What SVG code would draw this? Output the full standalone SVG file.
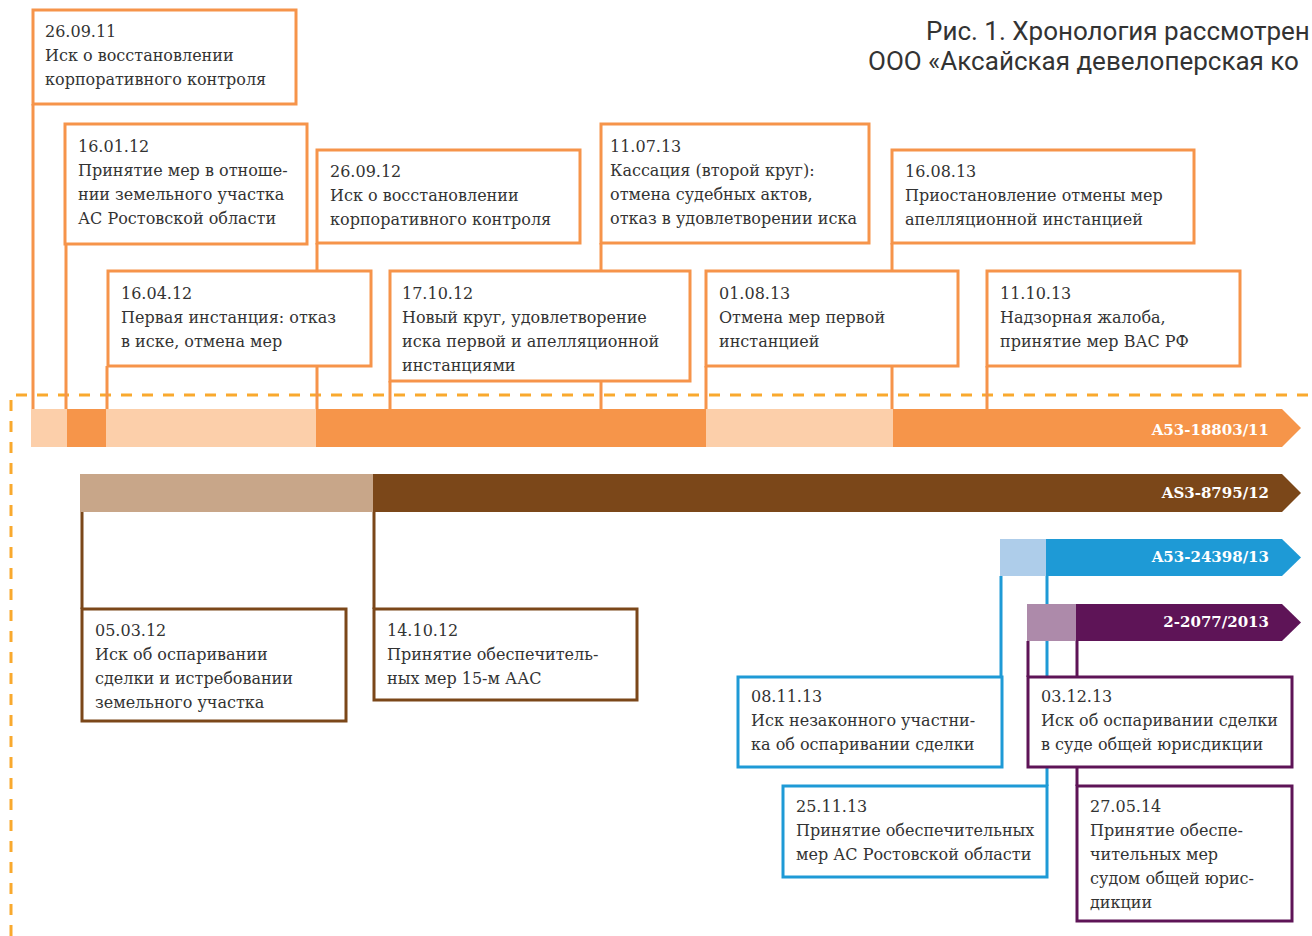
<svg xmlns="http://www.w3.org/2000/svg" width="1312" height="936" viewBox="0 0 1312 936">
<style>
.t{font-family:"DejaVu Serif","Liberation Serif",serif;font-size:16px;fill:#333}
.lbl{font-family:"DejaVu Serif","Liberation Serif",serif;font-size:15px;font-weight:bold;fill:#fff;text-anchor:end}
.title{font-family:Roboto,"Noto Sans",sans-serif;font-size:26px;fill:#333}
.bo{fill:#fff;stroke:#F6944A;stroke-width:3}
.bb{fill:#fff;stroke:#7B4719;stroke-width:3}
.bl{fill:#fff;stroke:#1E9AD6;stroke-width:3}
.bp{fill:#fff;stroke:#5E1457;stroke-width:3}
.co{stroke:#F6944A;stroke-width:3;fill:none}
.cb{stroke:#7B4719;stroke-width:3;fill:none}
.cl{stroke:#1E9AD6;stroke-width:3;fill:none}
.cp{stroke:#5E1457;stroke-width:3;fill:none}
</style>
<rect width="1312" height="936" fill="#fff"/>
<g id="title">
<text class="title" x="926" y="40">Рис. 1. Хронология рассмотрен</text>
<text class="title" x="868" y="70">ООО «Аксайская девелоперская ко</text>
</g>
<path d="M11,936 V395 H1312" fill="none" stroke="#F9A92E" stroke-width="3" stroke-dasharray="11 10"/>
<g id="connectors">
<path class="co" d="M33,104V409 M66,244V409 M317,243V409 M601,243V409 M892,243V409 M107,366V409 M390,381V409 M706,366V409 M987,366V409"/>
<path class="cb" d="M82,512V609 M374,512V609"/>
<path class="cl" d="M1001,576V677 M1047,576V786"/>
<path class="cp" d="M1028,641V677 M1077,641V786"/>
</g>
<g id="bar1">
<rect x="31" y="409" width="36" height="38" fill="#FCCFAA"/>
<rect x="67" y="409" width="39" height="38" fill="#F6954A"/>
<rect x="106" y="409" width="210" height="38" fill="#FCCFAA"/>
<rect x="316" y="409" width="390" height="38" fill="#F6954A"/>
<rect x="706" y="409" width="187" height="38" fill="#FCCFAA"/>
<path d="M893,409H1282L1301,428L1282,447H893Z" fill="#F6954A"/>
<text class="lbl" x="1269" y="435">A53-18803/11</text>
</g>
<g id="bar2">
<rect x="80" y="474" width="293" height="38" fill="#C8A689"/>
<path d="M373,474H1282L1301,493L1282,512H373Z" fill="#7B4719"/>
<text class="lbl" x="1269" y="498">AS3-8795/12</text>
</g>
<g id="bar3">
<rect x="1000" y="539" width="46" height="37" fill="#AECDEA"/>
<path d="M1046,539H1282L1301,557.5L1282,576H1046Z" fill="#1E9AD6"/>
<text class="lbl" x="1269" y="562">A53-24398/13</text>
</g>
<g id="bar4">
<rect x="1027" y="604" width="49" height="37" fill="#AD8AAA"/>
<path d="M1076,604H1282L1301,622.5L1282,641H1076Z" fill="#5E1457"/>
<text class="lbl" x="1269" y="627">2-2077/2013</text>
</g>
<g id="n260911"><rect class="bo" x="33" y="10" width="263" height="94"/>
<text class="t" x="45" y="37">26.09.11</text><text class="t" x="45" y="61">Иск о восстановлении</text><text class="t" x="45" y="85">корпоративного контроля</text></g>
<g id="n160112"><rect class="bo" x="65" y="124" width="242" height="120"/>
<text class="t" x="78" y="152">16.01.12</text><text class="t" x="78" y="176">Принятие мер в отноше-</text><text class="t" x="78" y="200">нии земельного участка</text><text class="t" x="78" y="224">АС Ростовской области</text></g>
<g id="n260912"><rect class="bo" x="317" y="150" width="263" height="93"/>
<text class="t" x="330" y="177">26.09.12</text><text class="t" x="330" y="201">Иск о восстановлении</text><text class="t" x="330" y="225">корпоративного контроля</text></g>
<g id="n110713"><rect class="bo" x="601" y="124" width="268" height="119"/>
<text class="t" x="610" y="152">11.07.13</text><text class="t" x="610" y="176">Кассация (второй круг):</text><text class="t" x="610" y="200">отмена судебных актов,</text><text class="t" x="610" y="224">отказ в удовлетворении иска</text></g>
<g id="n160813"><rect class="bo" x="892" y="150" width="302" height="93"/>
<text class="t" x="905" y="177">16.08.13</text><text class="t" x="905" y="201">Приостановление отмены мер</text><text class="t" x="905" y="225">апелляционной инстанцией</text></g>
<g id="n160412"><rect class="bo" x="108" y="271" width="263" height="95"/>
<text class="t" x="121" y="299">16.04.12</text><text class="t" x="121" y="323">Первая инстанция: отказ</text><text class="t" x="121" y="347">в иске, отмена мер</text></g>
<g id="n171012"><rect class="bo" x="390" y="271" width="300" height="110"/>
<text class="t" x="402" y="299">17.10.12</text><text class="t" x="402" y="323">Новый круг, удовлетворение</text><text class="t" x="402" y="347">иска первой и апелляционной</text><text class="t" x="402" y="371">инстанциями</text></g>
<g id="n010813"><rect class="bo" x="706" y="271" width="252" height="95"/>
<text class="t" x="719" y="299">01.08.13</text><text class="t" x="719" y="323">Отмена мер первой</text><text class="t" x="719" y="347">инстанцией</text></g>
<g id="n111013"><rect class="bo" x="987" y="271" width="253" height="95"/>
<text class="t" x="1000" y="299">11.10.13</text><text class="t" x="1000" y="323">Надзорная жалоба,</text><text class="t" x="1000" y="347">принятие мер ВАС РФ</text></g>
<g id="n050312"><rect class="bb" x="82" y="609" width="264" height="112"/>
<text class="t" x="95" y="636">05.03.12</text><text class="t" x="95" y="660">Иск об оспаривании</text><text class="t" x="95" y="684">сделки и истребовании</text><text class="t" x="95" y="708">земельного участка</text></g>
<g id="n141012"><rect class="bb" x="374" y="609" width="263" height="91"/>
<text class="t" x="387" y="636">14.10.12</text><text class="t" x="387" y="660">Принятие обеспечитель-</text><text class="t" x="387" y="684">ных мер 15-м ААС</text></g>
<g id="n081113"><rect class="bl" x="738" y="677" width="264" height="90"/>
<text class="t" x="751" y="702">08.11.13</text><text class="t" x="751" y="726">Иск незаконного участни-</text><text class="t" x="751" y="750">ка об оспаривании сделки</text></g>
<g id="n031213"><rect class="bp" x="1028" y="677" width="264" height="90"/>
<text class="t" x="1041" y="702">03.12.13</text><text class="t" x="1041" y="726">Иск об оспаривании сделки</text><text class="t" x="1041" y="750">в суде общей юрисдикции</text></g>
<g id="n251113"><rect class="bl" x="783" y="786" width="264" height="91"/>
<text class="t" x="796" y="812">25.11.13</text><text class="t" x="796" y="836">Принятие обеспечительных</text><text class="t" x="796" y="860">мер АС Ростовской области</text></g>
<g id="n270514"><rect class="bp" x="1077" y="786" width="215" height="135"/>
<text class="t" x="1090" y="812">27.05.14</text><text class="t" x="1090" y="836">Принятие обеспе-</text><text class="t" x="1090" y="860">чительных мер</text><text class="t" x="1090" y="884">судом общей юрис-</text><text class="t" x="1090" y="908">дикции</text></g>
</svg>
